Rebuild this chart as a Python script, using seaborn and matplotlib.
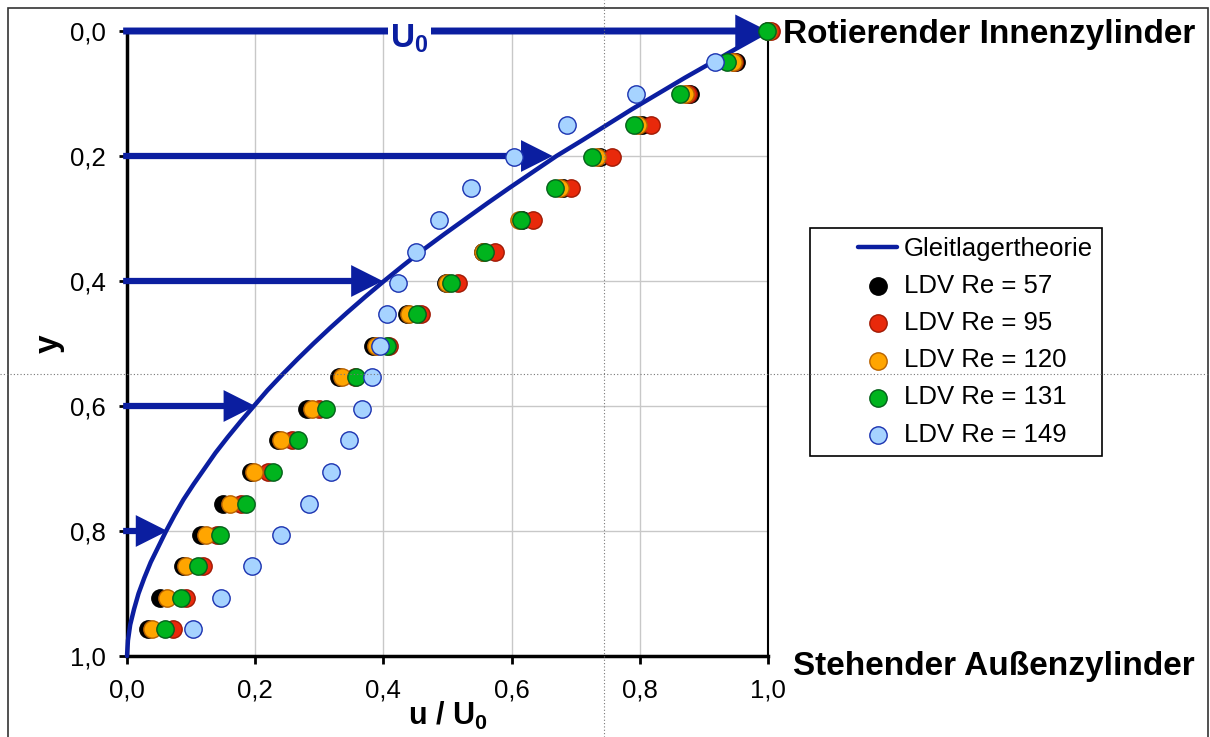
import numpy as np
import pandas as pd
import seaborn as sns
import matplotlib
matplotlib.use("Agg")
import matplotlib.pyplot as plt
from matplotlib.lines import Line2D
from matplotlib.collections import PathCollection
from matplotlib.legend_handler import HandlerLine2D, HandlerPathCollection
from matplotlib.patches import Rectangle

# ---------------- data ----------------
y_pos = [0.000, 0.050, 0.101, 0.151, 0.201, 0.252, 0.302, 0.353, 0.403, 0.453,
         0.504, 0.554, 0.605, 0.655, 0.705, 0.756, 0.806, 0.856, 0.907, 0.957]

re57 = [1.000, 0.950, 0.878, 0.803, 0.738, 0.680, 0.616, 0.555, 0.498, 0.437,
        0.384, 0.330, 0.281, 0.236, 0.194, 0.149, 0.115, 0.087, 0.051, 0.032]
re95 = [1.004, 0.947, 0.875, 0.817, 0.757, 0.692, 0.633, 0.574, 0.517, 0.458,
        0.408, 0.355, 0.300, 0.258, 0.220, 0.178, 0.140, 0.118, 0.092, 0.071]
re120 = [1.000, 0.945, 0.870, 0.797, 0.733, 0.675, 0.612, 0.556, 0.500, 0.440,
         0.389, 0.336, 0.289, 0.240, 0.198, 0.161, 0.124, 0.092, 0.063, 0.039]
re131 = [0.998, 0.936, 0.863, 0.791, 0.726, 0.668, 0.614, 0.559, 0.505, 0.453,
         0.405, 0.357, 0.310, 0.267, 0.228, 0.185, 0.145, 0.111, 0.084, 0.060]
re149 = [np.nan, 0.917, 0.794, 0.687, 0.603, 0.537, 0.487, 0.451, 0.422, 0.406,
         0.394, 0.382, 0.367, 0.347, 0.319, 0.284, 0.240, 0.195, 0.147, 0.103]

series_labels = ["LDV Re = 57", "LDV Re = 95", "LDV Re = 120",
                 "LDV Re = 131", "LDV Re = 149"]
series_values = [re57, re95, re120, re131, re149]

theory_label = "Gleitlagertheorie"
theory_y = [0.000, 0.025, 0.050, 0.075, 0.100, 0.125, 0.150, 0.175, 0.200,
            0.225, 0.250, 0.275, 0.300, 0.325, 0.350, 0.375, 0.400, 0.425,
            0.450, 0.475, 0.500, 0.525, 0.550, 0.575, 0.600, 0.625, 0.650,
            0.675, 0.700, 0.725, 0.750, 0.775, 0.800, 0.825, 0.850, 0.875,
            0.900, 0.925, 0.950, 0.975, 1.000]
theory_u = [1.000, 0.956, 0.913, 0.870, 0.829, 0.788, 0.749, 0.710, 0.670,
            0.634, 0.598, 0.563, 0.529, 0.495, 0.462, 0.431, 0.401, 0.372,
            0.344, 0.317, 0.291, 0.266, 0.242, 0.219, 0.198, 0.177, 0.157,
            0.138, 0.121, 0.104, 0.088, 0.074, 0.061, 0.049, 0.037, 0.027,
            0.018, 0.011, 0.005, 0.0015, 0.000]

arrow_y = [0.2, 0.4, 0.6, 0.8]
arrow_u = [0.664, 0.399, 0.200, 0.063]
top_arrow_u = 1.0

tick_vals = [0.0, 0.2, 0.4, 0.6, 0.8, 1.0]
tick_labels = ["0,0", "0,2", "0,4", "0,6", "0,8", "1,0"]

# ---------------- style ----------------
navy = "#0b1ea0"
fills = ["#000000", "#e8290b", "#ffa500", "#00b41e", "#a6d3ff"]
edges = ["#000000", "#a01a05", "#b86200", "#05601a", "#1a32b0"]

sns.set_style("white")
plt.rcParams["font.family"] = ["Liberation Sans", "DejaVu Sans"]
plt.rcParams["mathtext.default"] = "regular"
plt.rcParams["text.color"] = "black"
plt.rcParams["axes.labelcolor"] = "black"
plt.rcParams["xtick.color"] = "black"
plt.rcParams["ytick.color"] = "black"

fig = plt.figure(figsize=(12.1, 7.37), dpi=100)
ax = fig.add_axes([127 / 1210, 81 / 737, 641 / 1210, 625 / 737])

df = pd.concat(
    [pd.DataFrame({"u": v, "y": y_pos, "series": lab})
     for lab, v in zip(series_labels, series_values)],
    ignore_index=True)

# theory curve
sns.lineplot(x=theory_u, y=theory_y, sort=False, estimator=None, color=navy,
             lw=3.2, ax=ax, label=theory_label, legend=False, zorder=4,
             clip_on=False)
theory_line = ax.lines[-1]
theory_line.set_solid_joinstyle("round")

# velocity arrows
arrow_kw = dict(arrowstyle="-|>,head_length=1.55,head_width=0.78",
                mutation_scale=10, lw=4.5, color=navy, shrinkA=0, shrinkB=0,
                capstyle="butt", joinstyle="miter")
for yy, uu in zip(arrow_y, arrow_u):
    ax.annotate("", xy=(uu, yy), xytext=(-0.006, yy), arrowprops=arrow_kw,
                annotation_clip=False, zorder=3)
ax.annotate("", xy=(top_arrow_u, 0.0), xytext=(-0.006, 0.0),
            arrowprops=dict(arrow_kw, lw=5), annotation_clip=False, zorder=3)
ax.text(0.441, 0.026, "U$_0$", color=navy, fontsize=24, fontweight="bold",
        ha="center", va="baseline", zorder=4,
        bbox=dict(facecolor="white", edgecolor="none", pad=1.5))

# measured points
colls = []
for i, lab in enumerate(series_labels):
    sub = df[df["series"] == lab]
    sns.scatterplot(data=sub, x="u", y="y", color=fills[i], edgecolor=edges[i],
                    s=156, linewidth=1.0, ax=ax, zorder=6 + i, clip_on=False,
                    label=lab, legend=False)
    colls.append(ax.collections[-1])

# axes formatting
ax.set_xlim(0, 1)
ax.set_ylim(1, 0)
ax.set_xticks(tick_vals, tick_labels)
ax.set_yticks(tick_vals, tick_labels)
ax.tick_params(axis="both", which="major", bottom=True, left=True,
               direction="out", length=6, width=2, color="black",
               labelsize=18.5, labelcolor="black")
ax.tick_params(axis="x", pad=10)
ax.tick_params(axis="y", pad=9)
ax.grid(True, color="#c8c8c8", lw=1.0)
ax.set_axisbelow(True)
ax.spines["top"].set_visible(False)
for s in ["left", "bottom"]:
    ax.spines[s].set_linewidth(2.5)
    ax.spines[s].set_color("black")
ax.spines["right"].set_linewidth(1.5)
ax.spines["right"].set_color("black")

ax.set_xlabel("u / U$_0$", fontsize=22, fontweight="bold")
ax.xaxis.set_label_coords(0.5, -0.07)
ax.set_ylabel("y", fontsize=24, fontweight="bold", va="center")
ax.yaxis.set_label_coords(-0.122, 0.5)

ax.annotate("Rotierender Innenzylinder", xy=(1, 0), xytext=(11, -8.6),
            textcoords="offset points", fontsize=24, fontweight="bold",
            ha="left", va="baseline", annotation_clip=False)
ax.annotate("Stehender Außenzylinder", xy=(1, 1), xytext=(18, -13.7),
            textcoords="offset points", fontsize=24, fontweight="bold",
            ha="left", va="baseline", annotation_clip=False)

# legend
leg = fig.legend([theory_line] + colls, [theory_label] + series_labels,
                 loc="upper left", bbox_to_anchor=(810 / 1210, 1 - 228 / 737),
                 bbox_transform=fig.transFigure, fontsize=18.5, frameon=True,
                 fancybox=False, edgecolor="black", framealpha=1,
                 borderpad=0.35, labelspacing=0.51, handlelength=3.05,
                 handletextpad=0.25, borderaxespad=0,
                 handler_map={Line2D: HandlerLine2D(xpad=1.52),
                              PathCollection: HandlerPathCollection(xpad=1.52)})
leg.get_frame().set_linewidth(1.2)

# page frame and guide lines seen in the reference
fig.add_artist(Rectangle((8 / 1210, -0.05), 1200 / 1210, 1.05 - 8 / 737,
                         transform=fig.transFigure, fill=False,
                         edgecolor="#333333", lw=1.2, zorder=20))
fig.add_artist(Line2D([604 / 1210, 604 / 1210], [0, 1], transform=fig.transFigure,
                      ls=(0, (1, 2)), color="#777777", lw=0.8, zorder=20))
fig.add_artist(Line2D([0, 1], [1 - 374 / 737, 1 - 374 / 737],
                      transform=fig.transFigure, ls=(0, (1, 2)),
                      color="#777777", lw=0.8, zorder=20))

fig.savefig("out.png", dpi=100)
